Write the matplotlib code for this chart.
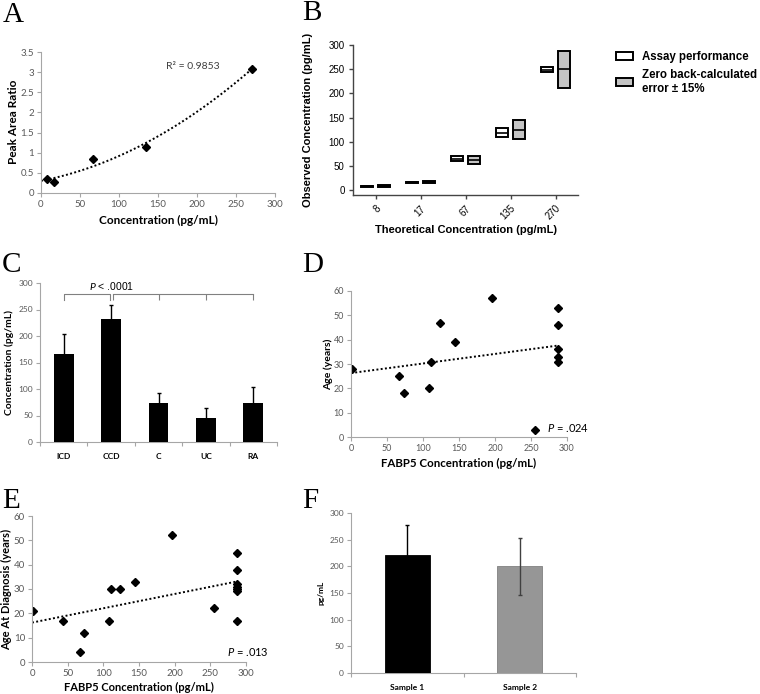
"""Six-panel FABP5 assay figure (A-F), redrawn with matplotlib."""

import numpy as np
import matplotlib

matplotlib.use("Agg")
import matplotlib.pyplot as plt  # noqa: E402
from matplotlib.patches import Patch  # noqa: E402

W, H = 760, 694
plt.rcParams["font.family"] = ["Lato", "DejaVu Sans"]
plt.rcParams["mathtext.fontset"] = "custom"
plt.rcParams["mathtext.it"] = "Lato:italic"
plt.rcParams["mathtext.rm"] = "Lato"

# ---- data -------------------------------------------------------------
# A: calibration curve
A_conc = [8, 17, 67, 135, 270]
A_ratio = [0.34, 0.28, 0.85, 1.13, 3.09]

# B: observed vs theoretical (floating boxes: low / median / high)
B_levels = ["8", "17", "67", "135", "270"]
B_assay_lo = [7, 15, 60, 109, 244]
B_assay_med = [8, 16, 65, 117, 249]
B_assay_hi = [9, 17, 71, 128, 254]
B_zero_lo = [6.5, 14, 53, 106, 212]
B_zero_med = [8, 16, 62, 125, 250]
B_zero_hi = [9.5, 18.5, 71, 144, 288]

# C: concentration by group
C_groups = ["ICD", "CCD", "C", "UC", "RA"]
C_mean = [166, 232, 73, 46, 74]
C_err = [37, 27, 19, 19, 30]

# D: age vs FABP5
D_fabp5 = [2, 67, 73, 108, 111, 124, 145, 196, 255, 288, 288, 288, 288, 288]
D_age = [28, 25, 18, 20, 31, 47, 39, 57, 3, 53, 46, 36, 33, 31]

# E: age at diagnosis vs FABP5
E_fabp5 = [2, 43, 67, 73, 108, 111, 124, 145, 196, 255,
           288, 288, 288, 288, 288, 288, 288]
E_age = [21, 17, 4, 12, 17, 30, 30, 33, 52, 22,
         45, 38, 32, 31, 30, 29, 17]

# F: two samples
F_samples = ["Sample 1", "Sample 2"]
F_mean = [221, 200]
F_err = [56, 53]
F_colors = ["black", "#969696"]
F_err_colors = ["black", "#404040"]

TICK_GREY = "#595959"
AXIS_GREY = "#A6A6A6"

fig = plt.figure(figsize=(W / 100, H / 100), dpi=100)


def px_axes(x0, y0, x1, y1):
    return fig.add_axes([x0 / W, 1 - y1 / H, (x1 - x0) / W, (y1 - y0) / H])


def ftext(x, y, s, **kw):
    kw.setdefault("ha", "center")
    kw.setdefault("va", "center")
    return fig.text(x / W, 1 - y / H, s, **kw)


def excel_style(ax, fs):
    for s in ("top", "right"):
        ax.spines[s].set_visible(False)
    for s in ("left", "bottom"):
        ax.spines[s].set_color(AXIS_GREY)
        ax.spines[s].set_linewidth(0.8)
    ax.tick_params(colors=AXIS_GREY, labelcolor=TICK_GREY, labelsize=fs,
                   length=3, width=0.8, direction="out", pad=2)


def panel_letter(x, y, s):
    ftext(x, y, s, ha="left", va="baseline", family="Liberation Serif",
          fontsize=21)


def trend(ax, x, y, deg, x_from=None):
    coef = np.polyfit(x, y, deg)
    lo = min(x) if x_from is None else x_from
    xs = np.linspace(lo, max(x), 100)
    ax.plot(xs, np.polyval(coef, xs), ls=(0, (1, 1.2)), color="black", lw=1.4)


# ---- A ----------------------------------------------------------------
ax = px_axes(41, 52, 275, 193)
excel_style(ax, 7)
trend(ax, A_conc, A_ratio, 2, x_from=0)
ax.plot(A_conc, A_ratio, "D", color="black", ms=3.6)
ax.set_xlim(0, 300)
ax.set_ylim(0, 3.5)
ax.set_xticks(range(0, 301, 50))
ax.set_yticks(np.arange(0, 3.51, 0.5))
ax.set_yticklabels(["0", "0.5", "1", "1.5", "2", "2.5", "3", "3.5"])
ax.text(160, 3.15, "R² = 0.9853", fontsize=7.5, color="#404040", va="center")
ftext(13.5, 122, "Peak Area Ratio", rotation=90, fontsize=8.5, weight="bold")
ftext(158, 220, "Concentration (pg/mL)", fontsize=8.5, weight="bold")
panel_letter(3, 22, "A")

# ---- B ----------------------------------------------------------------
ax = px_axes(353, 45, 578, 195)
pos = np.arange(len(B_levels))
bw, off = 0.27, 0.19
lo = np.array(B_assay_lo)
ax.bar(pos - off, np.array(B_assay_hi) - lo, bottom=lo, width=bw,
       color="white", edgecolor="black", lw=1.4, zorder=3)
ax.hlines(B_assay_med, pos - off - bw / 2, pos - off + bw / 2,
          color="black", lw=1.2, zorder=4)
lo = np.array(B_zero_lo)
ax.bar(pos + off, np.array(B_zero_hi) - lo, bottom=lo, width=bw,
       color="#C4C4C4", edgecolor="black", lw=1.4, zorder=3)
ax.hlines(B_zero_med, pos + off - bw / 2, pos + off + bw / 2,
          color="black", lw=1.2, zorder=4)
ax.set_xlim(-0.5, 4.5)
ax.set_ylim(-10.3, 300)
ax.set_yticks(range(0, 301, 50))
ax.set_xticks(pos)
ax.set_xticklabels(B_levels, rotation=45, ha="right", rotation_mode="anchor")
for s in ("top", "right"):
    ax.spines[s].set_visible(False)
for s in ("left", "bottom"):
    ax.spines[s].set_color("#444444")
    ax.spines[s].set_linewidth(1.0)
ax.tick_params(colors="#444444", labelcolor="black", labelsize=7,
               length=3, width=1.0, pad=3)
for lbl in ax.get_xticklabels() + ax.get_yticklabels():
    lbl.set_family("Liberation Sans")
ftext(308, 120, "Observed Concentration (pg/mL)", rotation=90,
      family="Liberation Sans", fontsize=8, weight="bold")
ftext(466, 230, "Theoretical Concentration (pg/mL)",
      family="Liberation Sans", fontsize=8, weight="bold")
handles = [Patch(facecolor="white", edgecolor="black", lw=1.4),
           Patch(facecolor="#C4C4C4", edgecolor="black", lw=1.4)]
leg = fig.legend(handles, ["Assay performance", "Zero back-calculated\nerror ± 15%"],
                 loc="upper left", bbox_to_anchor=(606 / W, 1 - 41 / H),
                 frameon=False, handlelength=1.4, handleheight=0.7,
                 handletextpad=0.8, labelspacing=0.45,
                 prop={"family": "Liberation Sans", "weight": "bold",
                       "size": 8.3})
leg.get_texts()[1].set_linespacing(1.3)
panel_letter(302, 20, "B")

# ---- C ----------------------------------------------------------------
ax = px_axes(40, 283, 277, 442)
excel_style(ax, 6)
cpos = np.arange(len(C_groups))
ax.bar(cpos, C_mean, width=0.42, color="black", zorder=3)
ax.errorbar(cpos, C_mean, yerr=C_err, fmt="none", ecolor="black",
            elinewidth=1, capsize=1.5, capthick=1, zorder=4)
ax.set_xlim(-0.5, 4.5)
ax.set_ylim(0, 300)
ax.set_yticks(range(0, 301, 50))
ax.set_xticks(np.arange(-0.5, 4.6, 1))
ax.set_xticklabels([])
ax.set_xticks(cpos, minor=True)
ax.set_xticklabels(C_groups, minor=True, weight="bold", color="black")
ax.tick_params(axis="x", which="minor", length=0, pad=8, labelsize=6)
# significance bracket
br_y, br_drop = 280, 267
ax.plot([0, 0, 0.97, 0.97], [br_drop, br_y, br_y, br_drop], color="#808080",
        lw=0.8, clip_on=False)
ax.plot([1.03, 4], [br_y, br_y], color="#808080", lw=0.8, clip_on=False)
ax.vlines([1.03, 2, 3, 4], br_drop, br_y, color="#808080", lw=0.8,
          clip_on=False)
ax.text(1, 294, r"$\mathit{P}$ < .0001", ha="center", va="center",
        fontsize=7.5, family="Liberation Sans")
ftext(9, 362, "Concentration (pg/mL)", rotation=90, fontsize=7.5, weight="bold")
panel_letter(2, 272, "C")

# ---- D ----------------------------------------------------------------
ax = px_axes(351, 291, 567, 437)
excel_style(ax, 6.5)
trend(ax, D_fabp5, D_age, 1, x_from=0)
ax.plot(D_fabp5, D_age, "D", color="black", ms=3.6)
ax.set_xlim(0, 300)
ax.set_ylim(0, 60)
ax.set_xticks(range(0, 301, 50))
ax.set_yticks(range(0, 61, 10))
ax.text(272, 3.5, r"$\mathit{P}$ = .024", fontsize=8, va="center")
ftext(328, 364, "Age (years)", rotation=90, fontsize=7.5, weight="bold")
ftext(459, 463, "FABP5 Concentration (pg/mL)", fontsize=8.3, weight="bold")
panel_letter(302, 272, "D")

# ---- E ----------------------------------------------------------------
ax = px_axes(32, 516, 246, 662)
excel_style(ax, 7)
trend(ax, E_fabp5, E_age, 1, x_from=0)
ax.plot(E_fabp5, E_age, "D", color="black", ms=3.6)
ax.set_xlim(0, 300)
ax.set_ylim(0, 60)
ax.set_xticks(range(0, 301, 50))
ax.set_yticks(range(0, 61, 10))
ax.text(273, 4, r"$\mathit{P}$ = .013", fontsize=8, va="center")
ftext(7, 589, "Age At Diagnosis (years)", rotation=90, fontsize=8,
      weight="bold")
ftext(139, 687, "FABP5 Concentration (pg/mL)", fontsize=8, weight="bold")
panel_letter(2, 508, "E")

# ---- F ----------------------------------------------------------------
ax = px_axes(351, 513, 576, 673)
excel_style(ax, 6)
fpos = np.arange(len(F_samples))
ax.bar(fpos, F_mean, width=0.4, color=F_colors,
       edgecolor=["black", "#808080"], lw=0.6, zorder=3)
for xp, m, e, c in zip(fpos, F_mean, F_err, F_err_colors):
    ax.errorbar(xp, m, yerr=e, fmt="none", ecolor=c,
                elinewidth=1, capsize=1.5, capthick=1, zorder=4)
ax.set_xlim(-0.5, 1.5)
ax.set_ylim(0, 300)
ax.set_yticks(range(0, 301, 50))
ax.set_xticks([-0.5, 0.5, 1.5])
ax.set_xticklabels([])
ax.set_xticks(fpos, minor=True)
ax.set_xticklabels(F_samples, minor=True, weight="bold", color="black")
ax.tick_params(axis="x", which="minor", length=0, pad=8, labelsize=6)
ftext(321, 593, "pg/mL", rotation=90, fontsize=6, weight="bold")
panel_letter(302, 508, "F")

fig.savefig("out.png", dpi=100)
